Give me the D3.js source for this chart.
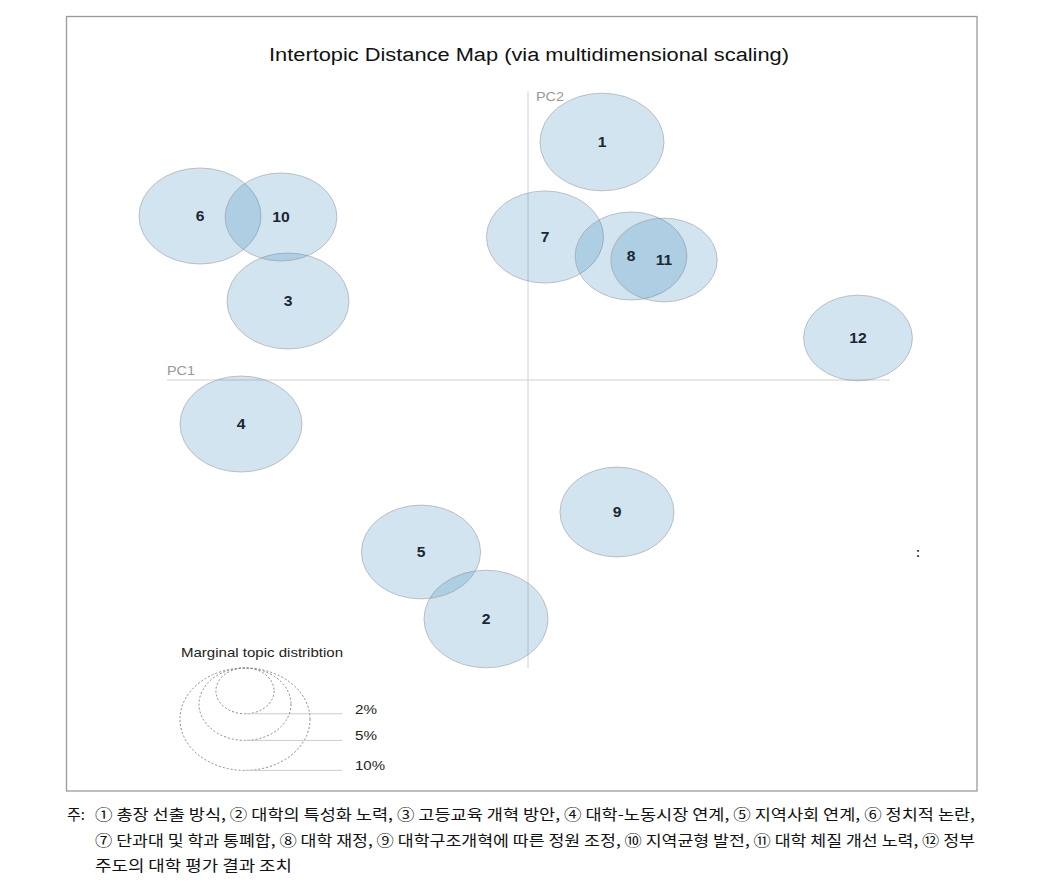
<!DOCTYPE html>
<html>
<head>
<meta charset="utf-8">
<script src="https://cdn.jsdelivr.net/npm/d3@7"></script>
<style>
html,body{margin:0;padding:0;background:#fff;}
svg{display:block;}
</style>
</head>
<body>
<svg id="chart" width="1038" height="893"></svg>
<script>
// ---- data ----
const topics = ["1","2","3","4","5","6","7","8","9","10","11","12"];
const pc1 = [0.074, -0.042, -0.240, -0.287, -0.107, -0.328, 0.017, 0.103, 0.089, -0.247, 0.136, 0.330];
const pc2 = [0.238, -0.239, 0.079, -0.044, -0.172, 0.164, 0.143, 0.124, -0.132, 0.163, 0.120, 0.042];
const share = [9.1, 9.1, 8.8, 8.8, 8.4, 8.8, 8.1, 7.4, 7.7, 7.4, 6.7, 7.0];
const legendShares = [2, 5, 10];
const legendLabels = ["2%", "5%", "10%"];
const title = "Intertopic Distance Map (via multidimensional scaling)";
const noteLines = [
  "① 총장 선출 방식, ② 대학의 특성화 노력, ③ 고등교육 개혁 방안, ④ 대학-노동시장 연계, ⑤ 지역사회 연계, ⑥ 정치적 논란,",
  "⑦ 단과대 및 학과 통폐합, ⑧ 대학 재정, ⑨ 대학구조개혁에 따른 정원 조정, ⑩ 지역균형 발전, ⑪ 대학 체질 개선 노력, ⑫ 정부",
  "주도의 대학 평가 결과 조치"
];

// ---- layout ----
const svg = d3.select("#chart");
const stretch = 1.27;
const x = d3.scaleLinear().domain([-0.36, 0.36]).range([168, 888]);
const y = d3.scaleLinear().domain([-0.288, 0.288]).range([668, 92]);
const r = d3.scaleSqrt().domain([0, 10]).range([0, 51.2]);
const ff = "Liberation Sans, Arial, sans-serif";

// frame
svg.append("rect").attr("x", 66.5).attr("y", 16.5).attr("width", 910.5).attr("height", 774.5)
  .attr("fill", "none").attr("stroke", "#9a9a9a").attr("stroke-width", 1.3);

// title
svg.append("text").attr("x", 269).attr("y", 61)
  .attr("font-family", ff).attr("font-size", 18)
  .attr("fill", "#111").attr("textLength", 520).attr("lengthAdjust", "spacingAndGlyphs")
  .text(title);

// axes
svg.append("line").attr("x1", x(-0.361)).attr("x2", x(0.362)).attr("y1", y(0)).attr("y2", y(0))
  .attr("stroke", "#d0d0d0").attr("stroke-width", 1);
svg.append("line").attr("x1", x(0)).attr("x2", x(0)).attr("y1", y(0.288)).attr("y2", y(-0.288))
  .attr("stroke", "#d0d0d0").attr("stroke-width", 1);
svg.append("text").attr("x", x(-0.361)).attr("y", y(0) - 5)
  .attr("font-family", ff).attr("font-size", 12).attr("fill", "#999")
  .attr("textLength", 28).attr("lengthAdjust", "spacingAndGlyphs").text("PC1");
svg.append("text").attr("x", x(0) + 8).attr("y", y(0.288) + 9)
  .attr("font-family", ff).attr("font-size", 12).attr("fill", "#999")
  .attr("textLength", 28).attr("lengthAdjust", "spacingAndGlyphs").text("PC2");

// circles
const data = topics.map((t, i) => ({t, px: pc1[i], py: pc2[i], s: share[i]}));
svg.append("g").selectAll("ellipse").data(data).join("ellipse")
  .attr("cx", d => x(d.px)).attr("cy", d => y(d.py))
  .attr("rx", d => r(d.s) * stretch).attr("ry", d => r(d.s))
  .attr("fill", "#1f77b4").attr("fill-opacity", 0.2)
  .attr("stroke", "#999").attr("stroke-opacity", 0.55).attr("stroke-width", 1);
svg.append("g").selectAll("text").data(data).join("text")
  .attr("x", d => x(d.px)).attr("y", d => y(d.py) + 5)
  .attr("text-anchor", "middle")
  .attr("font-family", ff).attr("font-size", 14).attr("font-weight", "bold")
  .attr("fill", "#1b2733")
  .attr("transform", d => `translate(${x(d.px)},0) scale(1.12,1) translate(${-x(d.px)},0)`)
  .text(d => d.t);

// legend
const lg = svg.append("g");
const ltop = 668, lcx = 245;
lg.append("text").attr("x", 181).attr("y", 657)
  .attr("font-family", ff).attr("font-size", 13).attr("fill", "#222")
  .attr("textLength", 162).attr("lengthAdjust", "spacingAndGlyphs")
  .text("Marginal topic distribtion");
legendShares.forEach((p, i) => {
  const rr = r(p);
  lg.append("ellipse").attr("cx", lcx).attr("cy", ltop + rr).attr("rx", rr * stretch).attr("ry", rr)
    .attr("fill", "none").attr("stroke", "#888").attr("stroke-width", 1).attr("stroke-dasharray", "2,2");
  lg.append("line").attr("x1", lcx).attr("x2", 342).attr("y1", ltop + 2 * rr).attr("y2", ltop + 2 * rr)
    .attr("stroke", "#ccc").attr("stroke-width", 1);
  lg.append("text").attr("x", 355).attr("y", ltop + 2 * rr)
    .attr("font-family", ff).attr("font-size", 13).attr("fill", "#222")
    .attr("textLength", legendLabels[i].length === 2 ? 22 : 30).attr("lengthAdjust", "spacingAndGlyphs")
    .text(legendLabels[i]);
});

// stray mark
svg.append("text").attr("x", 916).attr("y", 557)
  .attr("font-family", ff).attr("font-size", 12).attr("font-weight", "bold").attr("fill", "#222").text(":");

// footnote
const nf = "Noto Sans CJK KR, sans-serif";
svg.append("text").attr("x", 67).attr("y", 820).attr("font-family", nf).attr("font-size", 15).attr("fill", "#111").text("주:");
const noteLens = [880, 880, 197];
noteLines.forEach((s, i) => {
  svg.append("text").attr("x", 95).attr("y", 820 + i * 25.5)
    .attr("font-family", nf).attr("font-size", 15).attr("fill", "#111")
    .attr("textLength", noteLens[i]).attr("lengthAdjust", "spacingAndGlyphs")
    .text(s);
});
</script>
</body>
</html>
